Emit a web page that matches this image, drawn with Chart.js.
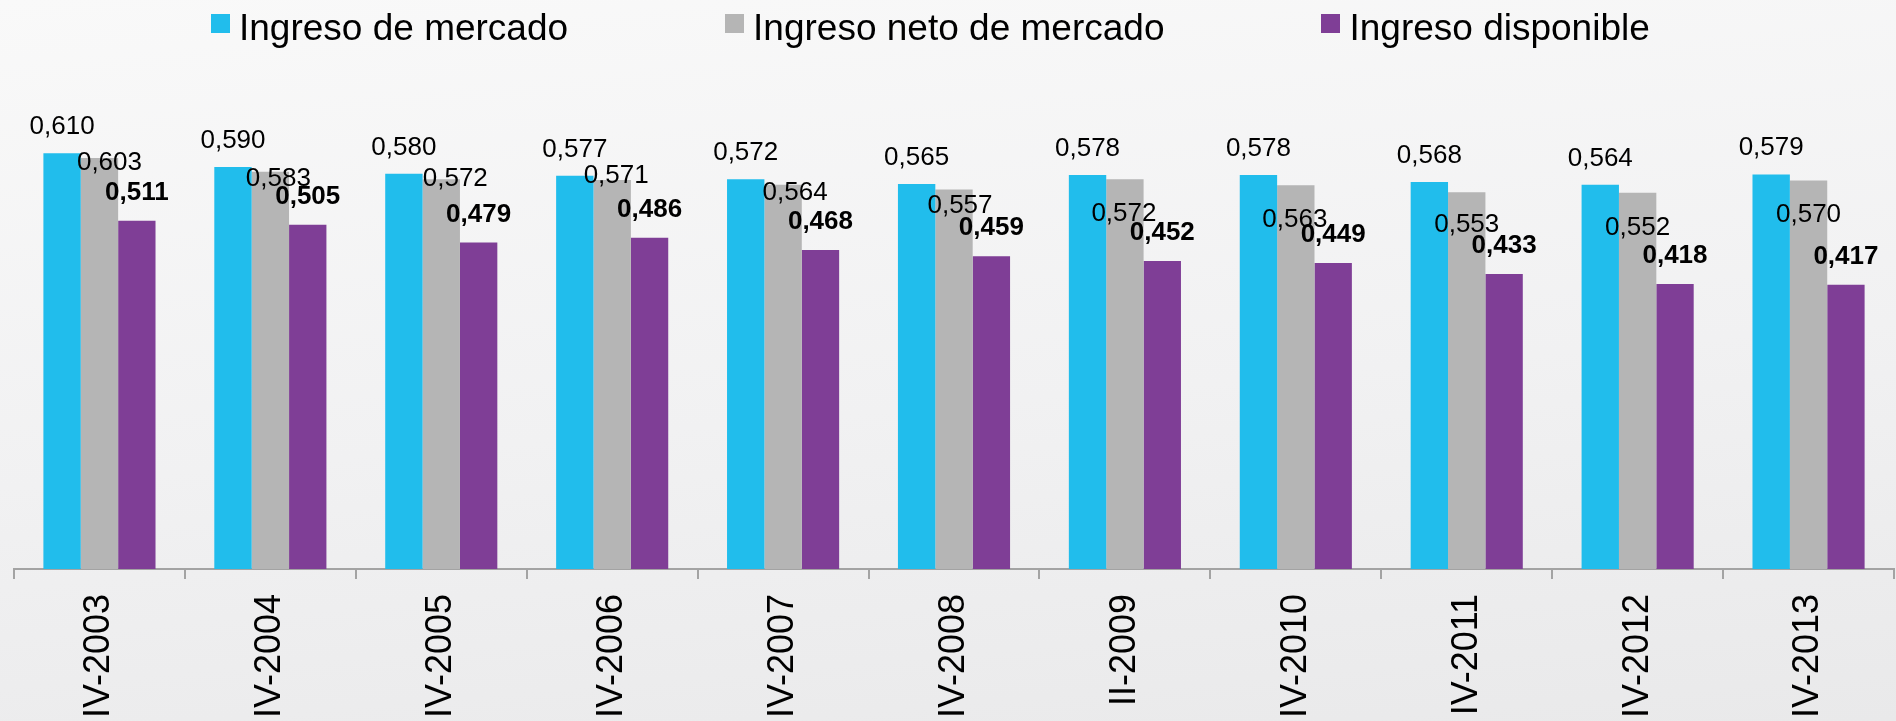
<!DOCTYPE html>
<html>
<head>
<meta charset="utf-8">
<script src="https://cdn.jsdelivr.net/npm/chart.js@4.4.1/dist/chart.umd.min.js"></script>
<style>
  html, body { margin: 0; padding: 0; }
  body {
    width: 1896px; height: 721px; overflow: hidden;
    background: linear-gradient(175deg, #f9f9f9 0%, #f1f1f2 55%, #e9e9ea 100%);
    font-family: "Liberation Sans", Arial, sans-serif;
  }
  .wrap { position: relative; width: 1896px; height: 721px; }
  #legend {
    position: absolute; left: 211px; top: 9px;
    display: flex; gap: 157px; white-space: nowrap;
  }
  .item { display: flex; align-items: flex-start; }
  .box { width: 19px; height: 19px; margin-top: 5px; margin-right: 9px; }
  .lbl { font-size: 37px; line-height: 37px; color: #000; }
</style>
</head>
<body>
<div class="wrap">
  <div id="legend"></div>
  <canvas id="giniChart"></canvas>
</div>
<script>
var categorias = ['IV-2003', 'IV-2004', 'IV-2005', 'IV-2006', 'IV-2007', 'IV-2008', 'II-2009', 'IV-2010', 'IV-2011', 'IV-2012', 'IV-2013'];
var ingresoMercado = [0.610, 0.590, 0.580, 0.577, 0.572, 0.565, 0.578, 0.578, 0.568, 0.564, 0.579];
var ingresoNeto = [0.603, 0.583, 0.572, 0.571, 0.564, 0.557, 0.572, 0.563, 0.553, 0.552, 0.570];
var ingresoDisponible = [0.511, 0.505, 0.479, 0.486, 0.468, 0.459, 0.452, 0.449, 0.433, 0.418, 0.417];

// the grey labels were moved by hand in the original, nudges in px
var netoDx = [10, 8, 14, 4, 12, 6, -1, -1, 0, 0, 0];
var netoDy = [12, 14, 7, 3, 15, 24, 42, 42, 40, 42, 41];

function fmt(v) {
    return v.toFixed(3).replace('.', ',');
}

const valueLabels = {
    id: 'valueLabels',
    afterDatasetsDraw(chart) {
        const ctx = chart.ctx;
        ctx.save();
        ctx.fillStyle = '#000';
        ctx.textAlign = 'center';
        ctx.textBaseline = 'alphabetic';
        chart.data.datasets.forEach((ds, di) => {
            const meta = chart.getDatasetMeta(di);
            meta.data.forEach((bar, i) => {
                const txt = fmt(ds.data[i]);
                if (di === 0) {
                    ctx.font = '26px "Liberation Sans", Arial, sans-serif';
                    ctx.fillText(txt, bar.x, bar.y - 19);
                } else if (di === 1) {
                    ctx.font = '26px "Liberation Sans", Arial, sans-serif';
                    ctx.fillText(txt, bar.x + netoDx[i], bar.y + netoDy[i]);
                } else {
                    ctx.font = 'bold 26px "Liberation Sans", Arial, sans-serif';
                    ctx.fillText(txt, bar.x, bar.y - 21);
                }
            });
        });
        ctx.restore();
    }
};

var ctx = document.getElementById('giniChart').getContext('2d');
var giniChart = new Chart(ctx, {
    type: 'bar',
    data: {
        labels: categorias,
        datasets: [{
            label: 'Ingreso de mercado',
            data: ingresoMercado,
            backgroundColor: '#21bdec'
        }, {
            label: 'Ingreso neto de mercado',
            data: ingresoNeto,
            backgroundColor: '#b5b5b5'
        }, {
            label: 'Ingreso disponible',
            data: ingresoDisponible,
            backgroundColor: '#7f3e96'
        }]
    },
    options: {
        responsive: true,
        maintainAspectRatio: false,
        animation: false,
        layout: {
            padding: { top: 92, left: 14, right: 2, bottom: -12 }
        },
        plugins: {
            legend: { display: false },
            tooltip: { enabled: false }
        },
        datasets: {
            bar: { categoryPercentage: 0.656, barPercentage: 1.0 }
        },
        scales: {
            x: {
                border: { display: true, color: '#a3a3a3', width: 2 },
                grid: {
                    display: true,
                    drawOnChartArea: false,
                    drawTicks: true,
                    tickLength: 10,
                    color: '#a3a3a3',
                    lineWidth: 2
                },
                ticks: {
                    autoSkip: false,
                    minRotation: 90,
                    maxRotation: 90,
                    padding: 15,
                    color: '#000',
                    font: { family: '"Liberation Sans", Arial, sans-serif', size: 36 }
                }
            },
            y: {
                display: false,
                min: 0,
                max: 0.7
            }
        }
    },
    plugins: [valueLabels]
});

// legend built from the datasets
var legendEl = document.getElementById('legend');
giniChart.data.datasets.forEach(ds => {
    var item = document.createElement('div');
    item.className = 'item';
    item.innerHTML = '<span class="box" style="background:' + ds.backgroundColor + '"></span><span class="lbl">' + ds.label + '</span>';
    legendEl.appendChild(item);
});
</script>
</body>
</html>
